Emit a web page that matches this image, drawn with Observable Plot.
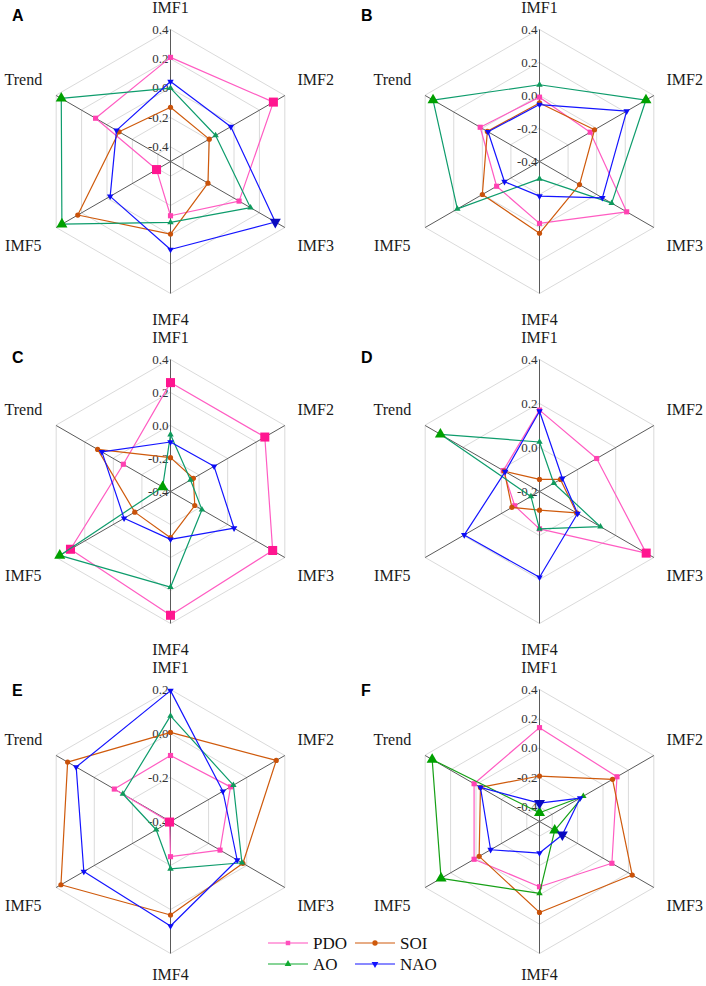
<!DOCTYPE html>
<html><head><meta charset="utf-8">
<script src="https://cdn.jsdelivr.net/npm/d3@7"></script>
<script src="https://cdn.jsdelivr.net/npm/@observablehq/plot@0.6"></script>
<style>
html,body{margin:0;padding:0;background:#fff;}
#wrap{position:relative;width:706px;height:986px;overflow:hidden;background:#fff;}
.panel{position:absolute;width:353px;height:330px;}
.panel svg{overflow:visible;}
.panel svg text, .legend text{font-family:"Liberation Serif","Times New Roman",Times,"DejaVu Serif",serif !important;}
.letter{position:absolute;font-family:"Liberation Sans",Arial,sans-serif;font-weight:bold;font-size:16px;line-height:16px;color:#000;}
</style></head><body><div id="wrap"></div>
<script>
// ---------- data ----------
const axisNames = ["IMF1", "IMF2", "IMF3", "IMF4", "IMF5", "Trend"];
const seriesNames = ["PDO", "SOI", "AO", "NAO"];

// rows: PDO, SOI, AO, NAO ; columns: IMF1..IMF5, Trend
const panelA = [
  [0.21, 0.31, 0.04, -0.13, -0.39, 0.09],
  [-0.13, -0.195, -0.205, -0.005, 0.23, -0.095],
  [0.0, -0.145, 0.13, -0.085, 0.355, 0.36],
  [0.045, -0.025, 0.325, 0.10, -0.025, -0.075]
];
const panelB = [
  [-0.01, -0.045, 0.21, -0.025, -0.10, 0.015],
  [-0.045, -0.015, -0.12, 0.035, 0.0, -0.035],
  [0.065, 0.345, 0.105, -0.295, 0.175, 0.345],
  [-0.055, 0.21, 0.04, -0.19, -0.155, -0.04]
];
const panelC = [
  [0.26, 0.26, 0.315, 0.35, 0.30, -0.07],
  [-0.195, -0.24, -0.23, -0.12, -0.15, 0.11],
  [-0.055, -0.26, -0.18, 0.18, 0.375, -0.345],
  [-0.10, -0.095, 0.045, -0.11, -0.075, 0.08]
];
const panelD = [
  [0.17, 0.10, 0.36, -0.03, -0.07, -0.01],
  [-0.145, -0.09, -0.005, -0.115, -0.055, -0.015],
  [0.025, -0.125, 0.12, -0.03, -0.155, 0.32],
  [0.165, -0.08, 0.0, 0.19, 0.195, -0.02]
];
const panelE = [
  [-0.10, -0.085, -0.14, -0.24, -0.395, -0.105],
  [0.005, 0.155, -0.02, 0.025, 0.175, 0.14],
  [0.08, -0.07, -0.025, -0.185, -0.325, -0.15],
  [0.195, -0.125, -0.05, 0.075, 0.055, 0.095]
];
const panelF = [
  [0.14, 0.11, 0.07, -0.055, 0.015, 0.015],
  [-0.19, 0.075, 0.23, 0.12, -0.025, -0.035],
  [-0.44, -0.155, -0.38, -0.01, 0.275, 0.345],
  [-0.375, -0.18, -0.32, -0.285, -0.115, -0.035]
];

// radial axis extent [center, outer] and tick labels
const rangeA = [-0.5, 0.4], ticksA = [-0.4, -0.2, 0.0, 0.2, 0.4];
const rangeB = [-0.4, 0.4], ticksB = [-0.4, -0.2, 0.0, 0.2, 0.4];
const rangeC = [-0.4, 0.4], ticksC = [-0.4, -0.2, 0.0, 0.2, 0.4];
const rangeD = [-0.2, 0.4], ticksD = [-0.2, 0.0, 0.2, 0.4];
const rangeE = [-0.4, 0.2], ticksE = [-0.4, -0.2, 0.0, 0.2];
const rangeF = [-0.5, 0.4], ticksF = [-0.4, -0.2, 0.0, 0.2, 0.4];

// emphasised (large-marker) points
const emphA = ["PDO:IMF2", "PDO:IMF5", "AO:IMF5", "AO:Trend", "NAO:IMF3"];
const emphB = ["AO:IMF2", "AO:Trend"];
const emphC = ["PDO:IMF1", "PDO:IMF2", "PDO:IMF3", "PDO:IMF4", "PDO:IMF5", "AO:IMF5", "AO:Trend"];
const emphD = ["PDO:IMF3", "AO:Trend"];
const emphE = ["PDO:IMF5"];
const emphF = ["AO:IMF1", "AO:IMF3", "AO:IMF5", "AO:Trend", "NAO:IMF1", "NAO:IMF3"];

const panelLetters = ["A", "B", "C", "D", "E", "F"];

// ---------- layout & style ----------
const panels = [
  {values: panelA, range: rangeA, ticks: ticksA, emph: emphA},
  {values: panelB, range: rangeB, ticks: ticksB, emph: emphB},
  {values: panelC, range: rangeC, ticks: ticksC, emph: emphC},
  {values: panelD, range: rangeD, ticks: ticksD, emph: emphD},
  {values: panelE, range: rangeE, ticks: ticksE, emph: emphE},
  {values: panelF, range: rangeF, ticks: ticksF, emph: emphF}
];
const layout = [
  {left: 0, top: 0, cx: 170, cy: 161, lx: 12, ly: 8, bottom: 1.2},
  {left: 353, top: 0, cx: 186, cy: 161, lx: 8, ly: 8, bottom: 1.2},
  {left: 0, top: 330, cx: 170, cy: 161, lx: 12, ly: 20, bottom: 1.2},
  {left: 353, top: 330, cx: 186, cy: 161, lx: 8, ly: 20, bottom: 1.2},
  {left: 0, top: 660, cx: 170, cy: 161, lx: 12, ly: 23, bottom: 1.165},
  {left: 353, top: 660, cx: 186, cy: 161, lx: 8, ly: 23, bottom: 1.165}
];
const R = 132;
const labelPos = [[0, 1.163], [1.1, 0.62], [1.1, -0.64], [0, -1.2], [-1.115, -0.64], [-1.115, 0.62]];
const serif = "'Liberation Serif','Times New Roman',Times,'DejaVu Serif',serif";

const styles = {
  PDO: {line: "#ff5cc2", dot: "#ff42b2", big: "#ff1690", symbol: "square", r: 2.9, rBig: 5.1, rotate: 0},
  SOI: {line: "#cf5a0c", dot: "#c9520a", big: "#c9520a", symbol: "circle", r: 2.6, rBig: 4, rotate: 0},
  AO:  {line: "#0e9c6c", dot: "#0f9a5c", big: "#00a000", symbol: "triangle", r: 2.4, rBig: 4.1, rotate: 0},
  NAO: {line: "#1414ff", dot: "#0c0cf5", big: "#0a0ac0", symbol: "triangle", r: 2.4, rBig: 4.1, rotate: 180}
};

const wrap = document.getElementById("wrap");
const ang = i => i * Math.PI / 3;

panels.forEach((p, k) => {
  const L = layout[k];
  const [vmin, vmax] = p.range;
  const norm = v => (v - vmin) / (vmax - vmin);

  const rings = p.ticks.filter(t => t > vmin).flatMap(t =>
    axisNames.map((a, i) => ({t, x: norm(t) * Math.sin(ang(i)), y: norm(t) * Math.cos(ang(i))})));
  const spokes = axisNames.map((a, i) => ({a, x: Math.sin(ang(i)), y: Math.cos(ang(i))}));
  const tickLabels = p.ticks.map(t => ({t, r: norm(t)}));
  const labels = axisNames.map((a, i) => ({a, x: labelPos[i][0], y: i === 3 ? -L.bottom : labelPos[i][1]}));

  const pts = [];
  seriesNames.forEach((s, si) => {
    p.values[si].forEach((v, i) => {
      pts.push({series: s, axis: axisNames[i], value: v,
        x: norm(v) * Math.sin(ang(i)), y: norm(v) * Math.cos(ang(i)),
        big: p.emph.includes(s + ":" + axisNames[i])});
    });
  });

  const marks = [
    Plot.line(rings, {x: "x", y: "y", z: "t", curve: "linear-closed", stroke: "#dadada", strokeWidth: 1}),
    Plot.link(spokes, {x1: d => 0, y1: d => 0, x2: "x", y2: "y", stroke: "#5a5a5a", strokeWidth: 1}),
    Plot.text(tickLabels, {x: d => 0, y: "r", text: d => d.t.toFixed(1), textAnchor: "end", dx: -2,
      fontSize: 13, fill: "#333", fontFamily: serif}),
    Plot.text(labels, {x: "x", y: "y", text: "a", textAnchor: "middle", fontSize: 16, fill: "#1a1a1a",
      fontFamily: serif})
  ];
  const greenLine = k === 5 ? "#16a016" : styles.AO.line;
  seriesNames.forEach(s => {
    const st = styles[s];
    const d = pts.filter(q => q.series === s);
    marks.push(Plot.line(d, {x: "x", y: "y", curve: "linear-closed", stroke: s === "AO" ? greenLine : st.line, strokeWidth: 1.2}));
    marks.push(Plot.dot(d.filter(q => !q.big), {x: "x", y: "y", symbol: st.symbol, r: st.r, fill: s === "AO" && k === 5 ? "#12a012" : st.dot, stroke: "none", rotate: st.rotate}));
    marks.push(Plot.dot(d.filter(q => q.big), {x: "x", y: "y", symbol: st.symbol, r: st.rBig, fill: st.big, stroke: "none", rotate: st.rotate}));
  });

  const chart = Plot.plot({
    width: 353, height: 330, margin: 0,
    x: {type: "linear", domain: [-1, 1], range: [L.cx - R, L.cx + R], axis: null},
    y: {type: "linear", domain: [-1, 1], range: [L.cy + R, L.cy - R], axis: null},
    style: {overflow: "visible", background: "transparent", fontFamily: serif},
    marks
  });
  const div = document.createElement("div");
  div.className = "panel";
  div.style.left = L.left + "px";
  div.style.top = L.top + "px";
  div.appendChild(chart);
  wrap.appendChild(div);

  const letter = document.createElement("div");
  letter.className = "letter";
  letter.textContent = panelLetters[k];
  letter.style.left = (L.left + L.lx) + "px";
  letter.style.top = (L.top + L.ly) + "px";
  wrap.appendChild(letter);
});

// ---------- legend ----------
const leg = d3.select("#wrap").append("svg")
  .attr("class", "legend")
  .attr("width", 250).attr("height", 56)
  .style("position", "absolute").style("left", "250px").style("top", "930px");
const legendColors = {PDO: "#ff4fbd", SOI: "#cf5a0c", AO: "#10aa30", NAO: "#1414ff"};
const symTypes = {PDO: d3.symbolSquare, SOI: d3.symbolCircle, AO: d3.symbolTriangle, NAO: d3.symbolTriangle};
seriesNames.forEach((s, i) => {
  const col = i % 2, row = Math.floor(i / 2);
  const x0 = 18 + col * 87, y0 = 13 + row * 21;
  const g = leg.append("g");
  g.append("line").attr("x1", x0).attr("x2", x0 + 40).attr("y1", y0).attr("y2", y0)
    .attr("stroke", legendColors[s]).attr("stroke-width", 1.2);
  g.append("path").attr("d", d3.symbol().type(symTypes[s]).size(s === "SOI" ? 22 : 20)())
    .attr("transform", `translate(${x0 + 20},${y0}) rotate(${s === "NAO" ? 180 : 0})`)
    .attr("fill", legendColors[s]);
  g.append("text").attr("x", x0 + 45).attr("y", y0).attr("dy", "0.35em")
    .attr("font-size", 17).attr("fill", "#111").text(s);
});
</script></body></html>
